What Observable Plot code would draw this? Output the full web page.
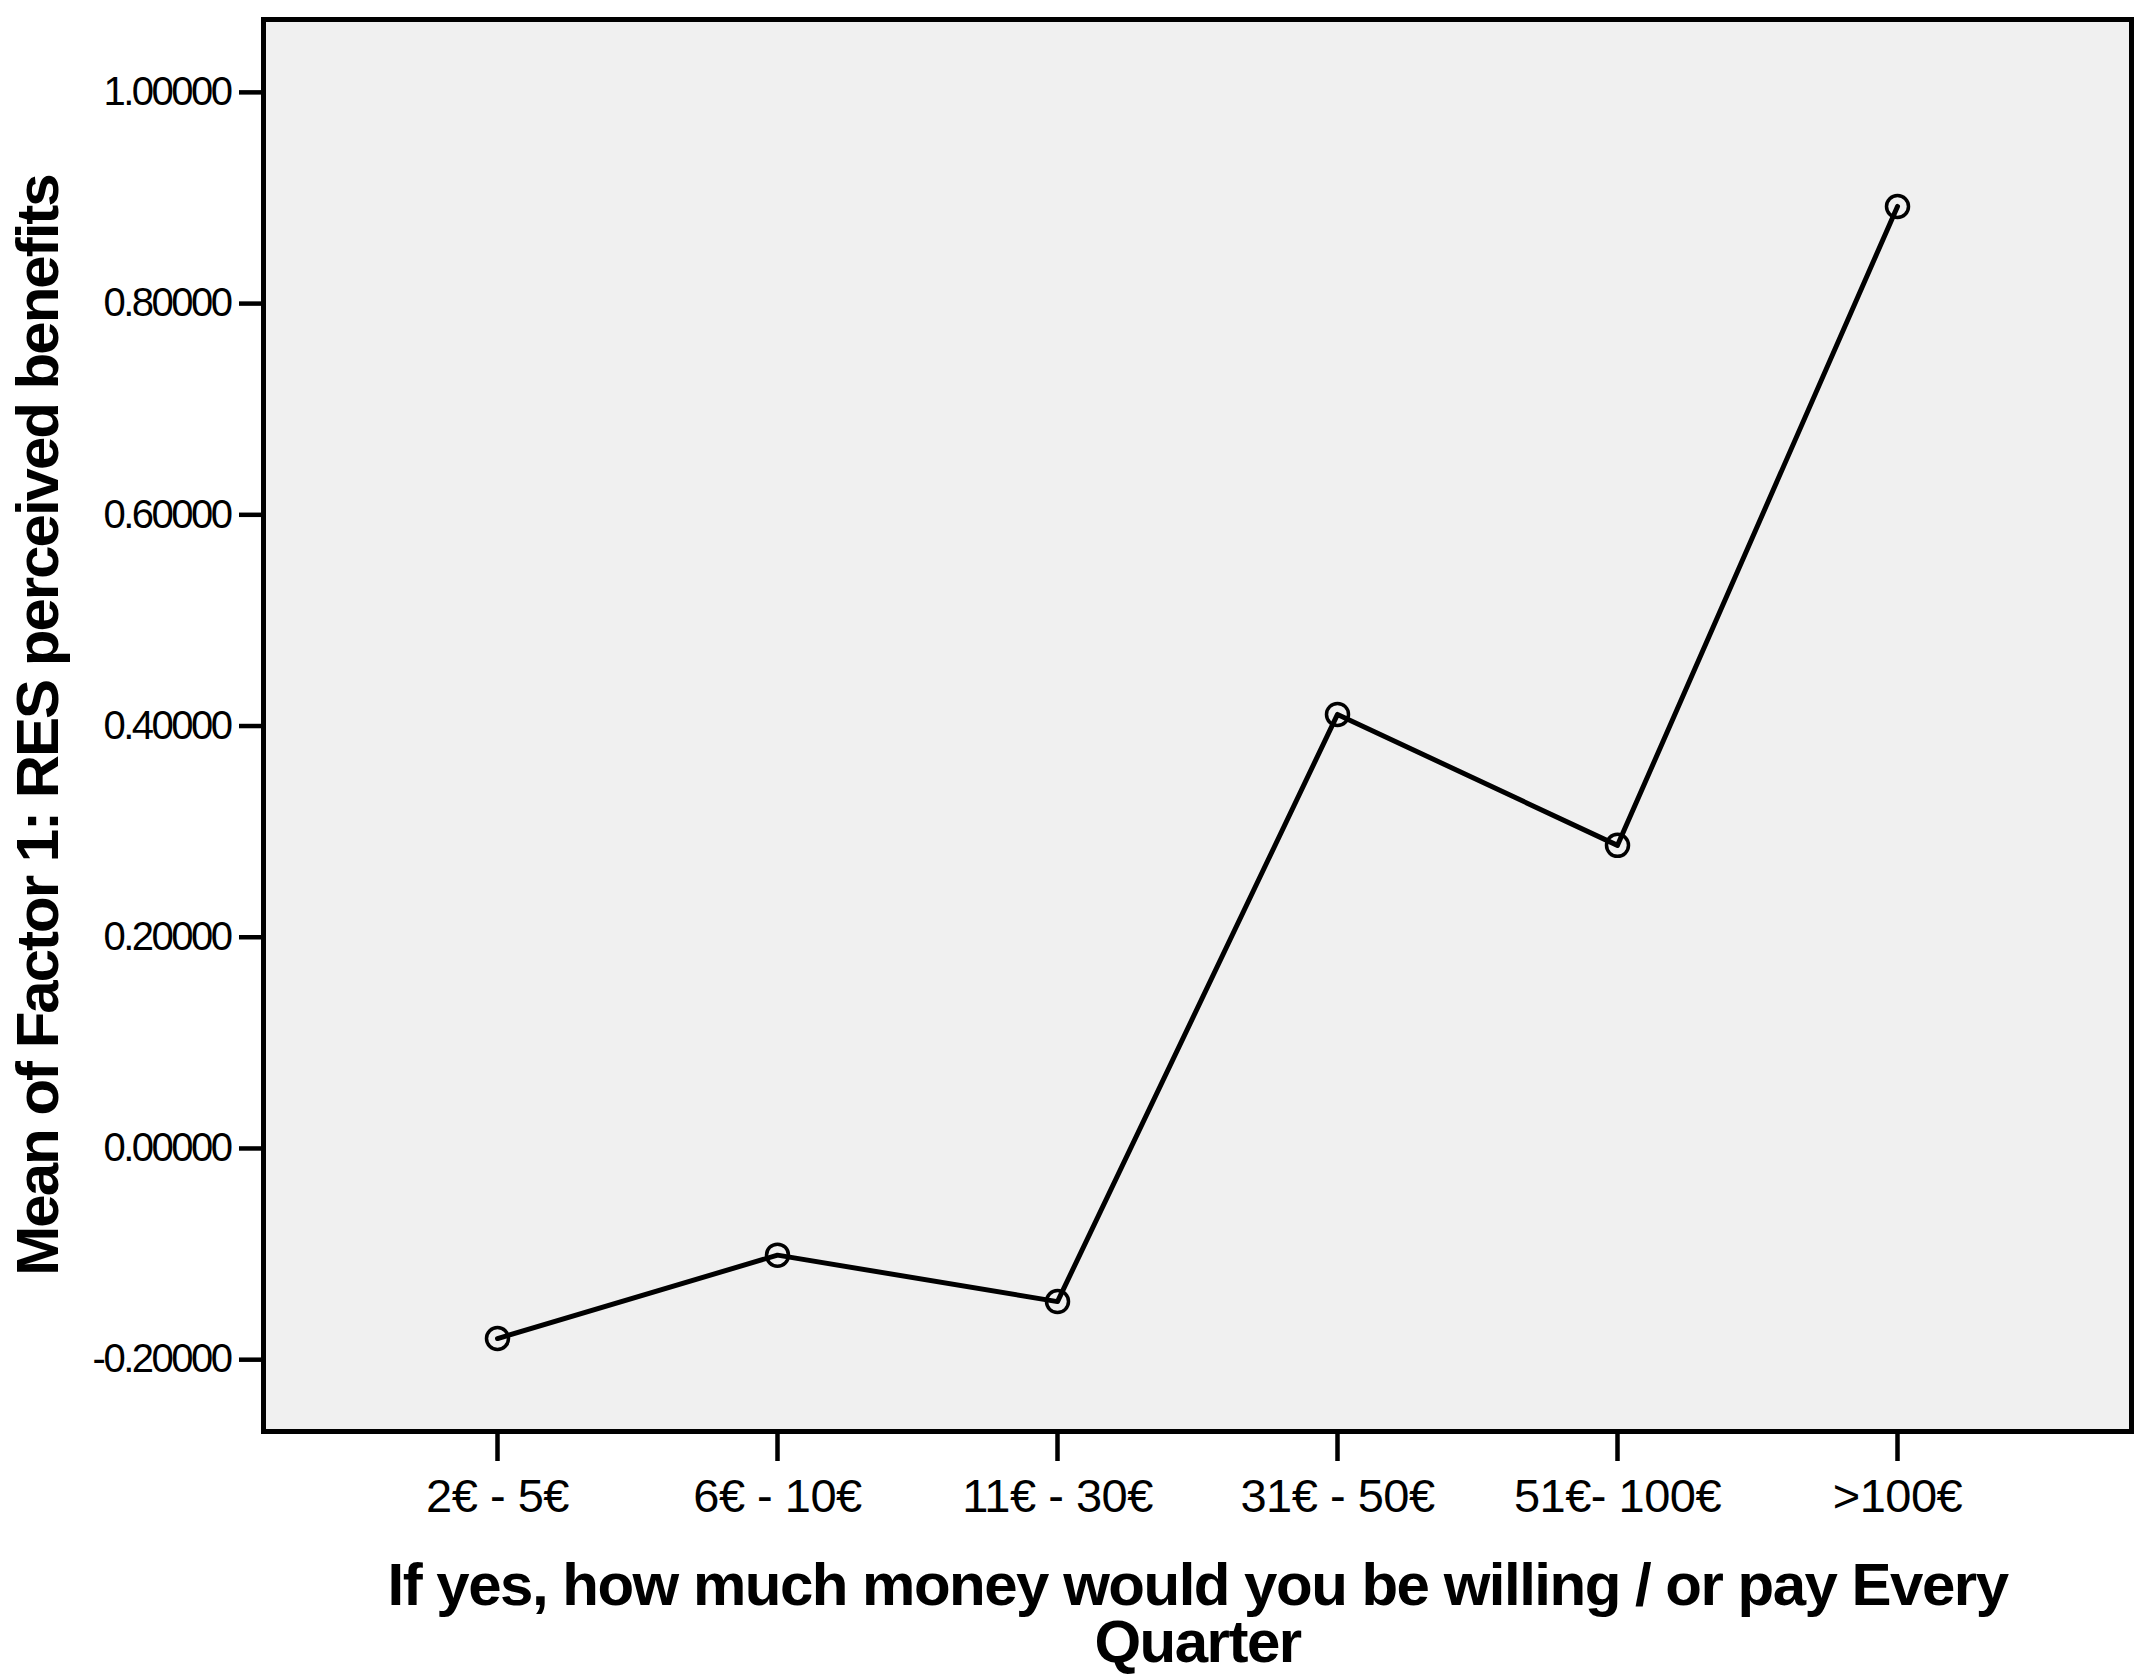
<!DOCTYPE html>
<html>
<head>
<meta charset="utf-8">
<script src="https://cdn.jsdelivr.net/npm/d3@7"></script>
<script src="https://cdn.jsdelivr.net/npm/@observablehq/plot@0.6"></script>
<style>
  html, body { margin: 0; padding: 0; background: #ffffff; }
  #chart svg { display: block; }
</style>
</head>
<body>
<div id="chart"></div>
<script>
const categories = ["2€ - 5€", "6€ - 10€", "11€ - 30€", "31€ - 50€", "51€- 100€", ">100€"];
const means = [-0.180, -0.101, -0.145, 0.411, 0.287, 0.892];
const yTicks = [-0.2, 0, 0.2, 0.4, 0.6, 0.8, 1.0];
const yTitle = "Mean of Factor 1: RES perceived benefits";
const xTitle = "If yes, how much money would you be willing / or pay Every\nQuarter";

const data = categories.map((c, i) => ({cat: c, val: means[i]}));

const chart = Plot.plot({
  width: 2149,
  height: 1678,
  marginLeft: 263,
  marginRight: 18,
  marginTop: 19,
  marginBottom: 247,
  style: {fontFamily: "'Liberation Sans', Arial, sans-serif", background: "#ffffff", color: "#000000"},
  x: {type: "point", domain: categories, padding: 0.83},
  y: {domain: [-0.268, 1.069]},
  marks: [
    Plot.frame({fill: "#f0f0f0", stroke: null}),
    Plot.axisY({
      ticks: yTicks,
      tickFormat: d => d.toFixed(5),
      tickSize: 24,
      tickPadding: 9,
      strokeWidth: 4.5,
      fontSize: 40,
      label: null
    }),
    Plot.axisX({
      tickSize: 30,
      tickPadding: 17,
      strokeWidth: 4.5,
      fontSize: 47,
      label: null
    }),
    Plot.line(data, {x: "cat", y: "val", stroke: "black", strokeWidth: 5}),
    Plot.dot(data, {x: "cat", y: "val", r: 11, stroke: "black", strokeWidth: 3.5, fill: "none"}),
    Plot.frame({stroke: "black", strokeWidth: 5}),
    Plot.text([yTitle], {
      frameAnchor: "left", dx: -225, rotate: -90,
      textAnchor: "middle", lineAnchor: "middle",
      fontSize: 60, fontWeight: "bold", fill: "black"
    }),
    Plot.text([xTitle], {
      frameAnchor: "bottom", dy: 184,
      textAnchor: "middle", lineAnchor: "middle", lineHeight: 0.95,
      fontSize: 60, fontWeight: "bold", fill: "black"
    })
  ]
});

d3.select(chart).selectAll('g[aria-label="y-axis tick label"] text').style("letter-spacing", "-2.5px");
d3.select(chart).selectAll('g[aria-label="x-axis tick label"] text').style("letter-spacing", "-0.5px");
const titles = d3.select(chart).selectAll('g[aria-label="text"]');
titles.filter((d, i) => i === 0).selectAll("text").style("letter-spacing", "-2px");
titles.filter((d, i) => i === 1).selectAll("text").style("letter-spacing", "-1.5px");
document.getElementById("chart").appendChild(chart);
</script>
</body>
</html>
